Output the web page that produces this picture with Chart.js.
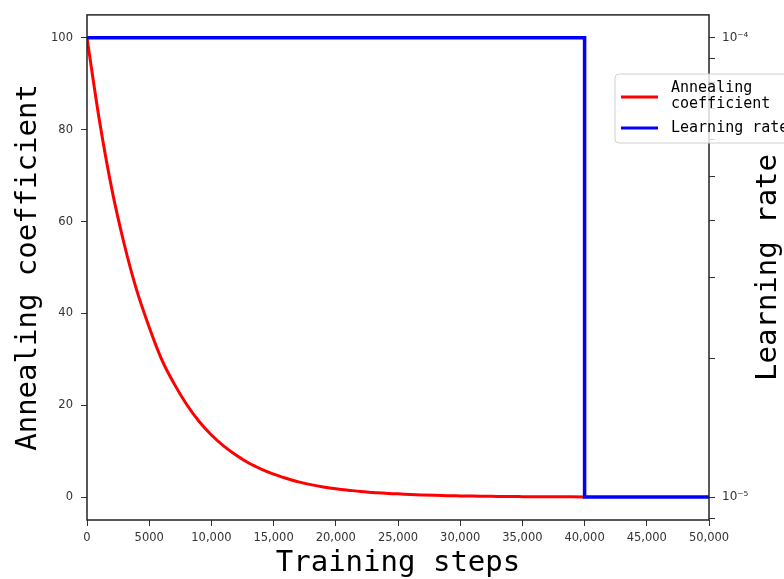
<!DOCTYPE html>
<html lang="en">
  <head>
    <meta charset="UTF-8" />
    <title>Annealing coefficient and learning rate</title>
    <style>
      html, body { margin: 0; padding: 0; background: #fff; overflow: hidden; }
    </style>
  </head>
  <body>
    <canvas id="myChart" width="784" height="579"></canvas>
    <script src="https://cdn.jsdelivr.net/npm/chart.js"></script>
    <script>
      // values
      var steps = [0, 1000, 2000, 3000, 4000, 5000, 6000, 7000, 8000, 9000,
        10000, 11000, 12000, 13000, 14000, 15000, 16000, 17000, 18000, 19000,
        20000, 21000, 22000, 23000, 24000, 25000, 26000, 27000, 28000, 29000,
        30000, 31000, 32000, 33000, 34000, 35000, 36000, 37000, 38000, 39000, 40000];
      var coefficient = [100, 82, 67, 55, 45, 37, 30, 24.7, 20.2, 16.5,
        13.5, 11.1, 9.1, 7.4, 6.1, 5.0, 4.1, 3.3, 2.7, 2.2,
        1.8, 1.5, 1.2, 1.0, 0.8, 0.7, 0.55, 0.45, 0.37, 0.3,
        0.25, 0.2, 0.17, 0.14, 0.11, 0.09, 0.07, 0.06, 0.05, 0.04, 0.03];
      var lrSteps = [0, 40000, 40000, 50000];
      var lrValues = [1e-4, 1e-4, 1e-5, 1e-5];

      var xTicks = [0, 5000, 10000, 15000, 20000, 25000, 30000, 35000, 40000, 45000, 50000];
      var xTickLabels = ["0", "5000", "10,000", "15,000", "20,000", "25,000",
        "30,000", "35,000", "40,000", "45,000", "50,000"];
      var leftTicks = [0, 20, 40, 60, 80, 100];
      var rightTicks = [9e-6, 1e-5, 2e-5, 3e-5, 4e-5, 5e-5, 6e-5, 7e-5, 8e-5, 9e-5, 1e-4];
      var rightTickLabels = ["", "10\u207B\u2075", "", "", "", "", "", "", "", "", "10\u207B\u2074"];

      var tickFont = { family: "DejaVu Sans", size: 11.5 };
      var titleFont = { family: "DejaVu Sans Mono", size: 29, lineHeight: 1 };

      function toPoints(xs, ys) {
        return xs.map(function (x, i) { return { x: x, y: ys[i] }; });
      }

      var framePlugin = {
        id: "frame",
        afterDraw: function (chart) {
          var ctx = chart.ctx, a = chart.chartArea;
          ctx.save();
          ctx.strokeStyle = "#222";
          ctx.lineWidth = 1.5;
          ctx.strokeRect(a.left, a.top, a.right - a.left, a.bottom - a.top);
          // right axis title, reading bottom to top
          ctx.font = "29px 'DejaVu Sans Mono'";
          ctx.fillStyle = "#000";
          ctx.textAlign = "center";
          ctx.textBaseline = "middle";
          ctx.translate(768, (a.top + a.bottom) / 2);
          ctx.rotate(-Math.PI / 2);
          ctx.fillText("Learning rate", 0, 0);
          ctx.restore();
        }
      };

      var legendPlugin = {
        id: "boxLegend",
        afterDraw: function (chart) {
          var ctx = chart.ctx;
          var x = 615, y = 74, w = 200, h = 69, r = 4;
          ctx.save();
          ctx.beginPath();
          ctx.moveTo(x + r, y);
          ctx.arcTo(x + w, y, x + w, y + h, r);
          ctx.arcTo(x + w, y + h, x, y + h, r);
          ctx.arcTo(x, y + h, x, y, r);
          ctx.arcTo(x, y, x + w, y, r);
          ctx.closePath();
          ctx.fillStyle = "rgba(255,255,255,0.8)";
          ctx.fill();
          ctx.strokeStyle = "#d0d0d0";
          ctx.lineWidth = 1;
          ctx.stroke();

          ctx.lineWidth = 3;
          ctx.strokeStyle = "#ff0000";
          ctx.beginPath(); ctx.moveTo(621, 97); ctx.lineTo(658, 97); ctx.stroke();
          ctx.strokeStyle = "#0000ff";
          ctx.beginPath(); ctx.moveTo(621, 128); ctx.lineTo(658, 128); ctx.stroke();

          ctx.fillStyle = "#000";
          ctx.font = "15px 'DejaVu Sans Mono'";
          ctx.textAlign = "left";
          ctx.textBaseline = "alphabetic";
          ctx.fillText("Annealing", 671, 92);
          ctx.fillText("coefficient", 671, 108);
          ctx.fillText("Learning rate", 671, 132);
          ctx.restore();
        }
      };

      var config = {
        type: "line",
        data: {
          datasets: [
            {
              label: "Annealing coefficient",
              data: toPoints(steps, coefficient),
              borderColor: "#ff0000",
              borderWidth: 3,
              pointRadius: 0,
              cubicInterpolationMode: "monotone",
              yAxisID: "y",
              order: 2
            },
            {
              label: "Learning rate",
              data: toPoints(lrSteps, lrValues),
              borderColor: "#0000ff",
              borderWidth: 3.5,
              pointRadius: 0,
              tension: 0,
              yAxisID: "y2",
              order: 1
            }
          ]
        },
        options: {
          responsive: false,
          animation: false,
          layout: { padding: { top: 14, left: 0, right: 0, bottom: 0 } },
          plugins: { legend: { display: false }, tooltip: { enabled: false } },
          scales: {
            x: {
              type: "linear",
              min: 0,
              max: 50000,
              afterBuildTicks: function (s) { s.ticks = xTicks.map(function (v) { return { value: v }; }); },
              afterFit: function (s) { s.height = 59; },
              border: { display: false },
              grid: { drawOnChartArea: false, tickLength: 6, color: "#333" },
              ticks: {
                font: tickFont, color: "#333", padding: 5, maxRotation: 0, autoSkip: false,
                callback: function (v, i) { return xTickLabels[i]; }
              },
              title: {
                display: true, text: "Training steps", font: titleFont, color: "#000",
                padding: { top: 0, bottom: 1 }
              }
            },
            y: {
              position: "left",
              min: -5,
              max: 105,
              afterBuildTicks: function (s) { s.ticks = leftTicks.map(function (v) { return { value: v }; }); },
              afterFit: function (s) { s.width = 87; },
              border: { display: false },
              grid: { drawOnChartArea: false, tickLength: 6, color: "#333" },
              ticks: { font: tickFont, color: "#333", padding: 8 },
              title: {
                display: true, text: "Annealing coefficient", font: titleFont, color: "#000",
                padding: { top: 14, bottom: 0 }
              }
            },
            y2: {
              type: "logarithmic",
              position: "right",
              min: Math.pow(10, -5.05),
              max: Math.pow(10, -3.95),
              afterBuildTicks: function (s) { s.ticks = rightTicks.map(function (v) { return { value: v }; }); },
              afterFit: function (s) { s.width = 75; },
              border: { display: false },
              grid: { drawOnChartArea: false, tickLength: 6, color: "#333" },
              ticks: {
                font: { family: "DejaVu Sans", size: 12 }, color: "#333", padding: 7, autoSkip: false,
                callback: function (v, i) { return rightTickLabels[i]; }
              }
            }
          }
        },
        plugins: [framePlugin, legendPlugin]
      };

      var myChart = new Chart(document.getElementById("myChart"), config);
    </script>
  </body>
</html>
